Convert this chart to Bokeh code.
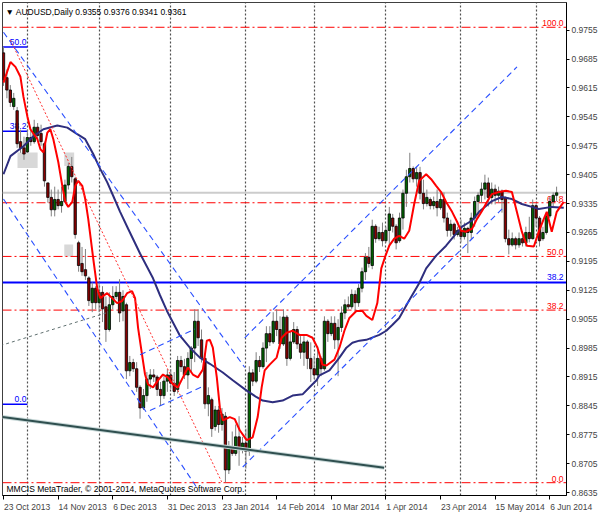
import pandas as pd
from bokeh.plotting import figure
from bokeh.models import (Range1d, FixedTicker, Label, ColumnDataSource,
                          PrintfTickFormatter, GlobalInlineStyleSheet)
from bokeh.core.properties import value
from bokeh.embed import file_html
from bokeh.resources import INLINE

# ---------------- data ----------------
holidays = ["2013-12-25", "2014-01-01"]
dates = [d for d in pd.bdate_range("2013-10-23", "2014-06-10")
         if d.strftime("%Y-%m-%d") not in holidays]

opens = [.9700,.9640,.9610,.9570,.9560,.9485,.9470,.9460,.9495,.9485,.9520,.9505,.9480,.9385,.9350,.9320,.9345,.9330,.9340,.9380,
         .9425,.9395,.9240,.9190,.9175,.9155,.9095,.9130,.9095,.9120,.9085,.9030,.9090,.9110,.9120,.9075,.9090,.8930,.8950,.8935,
         .8890,.8840,.8870,.8910,.8920,.8915,.8885,.8870,.8905,.8920,.8900,.8885,.8955,.8940,.8920,.8960,.8985,.9050,.9005,.8960,
         .8850,.8860,.8795,.8835,.8800,.8820,.8690,.8745,.8730,.8770,.8740,.8755,.8735,.8925,.8905,.8955,.8940,.8985,.9020,.9000,
         .9050,.9030,.8995,.9060,.8960,.9000,.9030,.8995,.8975,.9000,.8960,.8935,.8920,.8960,.8935,.9050,.9020,.9045,.9005,.9035,
         .9070,.9090,.9085,.9115,.9095,.9130,.9170,.9205,.9185,.9280,.9250,.9265,.9245,.9270,.9300,.9280,.9245,.9300,.9360,.9400,
         .9420,.9395,.9410,.9360,.9335,.9345,.9330,.9340,.9325,.9345,.9300,.9270,.9285,.9260,.9270,.9255,.9275,.9265,.9300,.9340,
         .9355,.9370,.9385,.9350,.9370,.9355,.9365,.9350,.9250,.9235,.9250,.9235,.9250,.9240,.9265,.9250,.9330,.9300,.9250,.9265,
         .9305,.9340,.9355]
highs = [.9715,.9660,.9622,.9603,.9569,.9514,.9497,.9514,.9514,.9538,.9530,.9526,.9485,.9386,.9369,.9376,.9369,.9376,.9393,.9434,
         .9448,.9400,.9245,.9230,.9225,.9159,.9144,.9135,.9144,.9135,.9110,.9120,.9135,.9135,.9152,.9125,.9095,.8966,.8959,.8951,
         .8895,.8886,.8927,.8934,.8934,.8920,.8903,.8917,.8934,.8934,.8927,.8966,.8966,.8959,.8975,.8990,.9079,.9079,.9030,.8970,
         .8890,.8865,.8845,.8845,.8840,.8830,.8760,.8783,.8800,.8820,.8770,.8790,.8941,.8934,.8975,.8966,.8999,.9038,.9038,.9072,
         .9079,.9062,.9079,.9065,.9024,.9048,.9038,.9014,.9014,.9005,.8999,.8966,.8990,.8965,.9062,.9055,.9062,.9062,.9055,.9086,
         .9103,.9110,.9127,.9125,.9140,.9180,.9215,.9230,.9296,.9285,.9279,.9289,.9279,.9327,.9310,.9285,.9313,.9369,.9417,.9458,
         .9425,.9424,.9424,.9393,.9369,.9350,.9352,.9369,.9362,.9362,.9313,.9296,.9289,.9279,.9296,.9289,.9279,.9313,.9352,.9362,
         .9386,.9405,.9398,.9386,.9381,.9376,.9369,.9352,.9272,.9265,.9255,.9265,.9265,.9279,.9303,.9345,.9335,.9305,.9279,.9313,
         .9352,.9362,.9376]
lows = [.9620,.9590,.9569,.9562,.9470,.9458,.9441,.9458,.9475,.9480,.9489,.9475,.9376,.9337,.9304,.9304,.9321,.9313,.9337,.9369,
        .9386,.9250,.9170,.9160,.9150,.9087,.9072,.9079,.9072,.9048,.9000,.9025,.9079,.9103,.9048,.9050,.8910,.8917,.8927,.8879,
        .8814,.8835,.8855,.8886,.8903,.8869,.8845,.8862,.8879,.8886,.8869,.8875,.8927,.8910,.8886,.8927,.8951,.8990,.8950,.8838,
        .8820,.8770,.8785,.8780,.8785,.8660,.8680,.8724,.8724,.8700,.8730,.8693,.8724,.8893,.8900,.8927,.8935,.8951,.8990,.8995,
        .9014,.8983,.8990,.8942,.8955,.8995,.8983,.8959,.8942,.8934,.8903,.8910,.8893,.8917,.8930,.9000,.9014,.8983,.8917,.9024,
        .9055,.9079,.9079,.9070,.9085,.9120,.9150,.9180,.9176,.9240,.9245,.9231,.9240,.9231,.9265,.9224,.9240,.9272,.9327,.9386,
        .9386,.9376,.9345,.9321,.9328,.9321,.9321,.9304,.9320,.9289,.9255,.9255,.9248,.9255,.9241,.9248,.9215,.9248,.9279,.9304,
        .9337,.9345,.9328,.9333,.9333,.9337,.9313,.9241,.9212,.9231,.9224,.9228,.9231,.9231,.9241,.9248,.9279,.9231,.9245,.9260,
        .9300,.9328,.9341]
closes = [.9635,.9610,.9580,.9590,.9480,.9470,.9455,.9495,.9485,.9520,.9500,.9485,.9390,.9350,.9320,.9345,.9330,.9340,.9380,.9425,
          .9400,.9260,.9185,.9170,.9160,.9100,.9130,.9095,.9120,.9080,.9030,.9090,.9110,.9120,.9070,.9110,.8930,.8950,.8935,.8890,
          .8840,.8870,.8910,.8920,.8915,.8885,.8870,.8905,.8920,.8900,.8880,.8955,.8940,.8920,.8960,.8985,.9050,.9010,.8960,.8850,
          .8870,.8790,.8835,.8800,.8825,.8690,.8745,.8730,.8770,.8740,.8755,.8735,.8925,.8905,.8955,.8940,.8985,.9020,.9000,.9050,
          .9030,.8995,.9060,.8960,.9000,.9030,.8995,.8975,.9000,.8960,.8935,.8920,.8960,.8935,.9050,.9020,.9045,.9005,.9035,.9070,
          .9090,.9085,.9115,.9095,.9130,.9170,.9205,.9190,.9280,.9250,.9265,.9245,.9270,.9310,.9280,.9240,.9300,.9360,.9400,.9420,
          .9395,.9410,.9360,.9335,.9350,.9330,.9340,.9325,.9345,.9300,.9270,.9285,.9260,.9270,.9255,.9275,.9265,.9300,.9340,.9355,
          .9370,.9385,.9350,.9370,.9355,.9365,.9345,.9250,.9235,.9250,.9235,.9250,.9240,.9265,.9250,.9330,.9300,.9245,.9265,.9305,
          .9340,.9355,.9361]

# fast (red) and slow (navy) moving averages (bar index, price)
red_ma_x = [0,2.04,3.5,4.96,5.84,7.0,7.88,9.93,10.8,11.68,12.85,13.72,14.6,16.06,17.23,18.1,18.98,20.15,21.02,21.9,
            23.07,23.94,24.82,26.28,27.45,28.32,30.36,31.82,33.28,34.74,36.2,37.66,38.54,39.42,40.58,41.46,42.34,43.8,45.26,46.72,
            48.18,49.64,51.09,52.55,54.01,55.47,56.93,58.39,59.56,60.44,61.31,62.48,63.36,64.23,66.28,67.74,69.2,71.24,72.99,74.45,
            75.62,76.5,77.96,80.0,81.46,82.92,84.67,86.72,88.76,90.51,91.97,93.43,94.6,96.93,98.39,99.85,101.31,103.36,105.11,106.28,
            108.03,109.49,110.66,111.82,112.99,114.45,115.91,117.37,118.83,120.29,121.75,123.8,125.26,126.72,128.18,129.64,131.39,132.85,134.01,135.47,
            137.23,138.69,140.15,141.61,143.07,145.11,147.15,148.91,150.36,151.82,153.28,155.33,156.79,158.25,159.12,160.58,162.04,164.09]
red_ma_y = [.9628,.9678,.9666,.9642,.9594,.9546,.9515,.9491,.9467,.9459,.9507,.9515,.9491,.9435,.9378,.9339,.9327,.9339,.9378,.9390,
            .9378,.9346,.9298,.9202,.9130,.9106,.9118,.9106,.9094,.9099,.9118,.9123,.9106,.9034,.8969,.8921,.8897,.8890,.8907,.8921,
            .8914,.8897,.8890,.8914,.8938,.8921,.8914,.8933,.9003,.9005,.8986,.8914,.8842,.8810,.8818,.8813,.8786,.8762,.8769,.8818,
            .8890,.8931,.8945,.8962,.9010,.9022,.9027,.9017,.9017,.9010,.8986,.8945,.8943,.8957,.8986,.9027,.9058,.9075,.9075,.9063,
            .9053,.9094,.9178,.9207,.9233,.9250,.9257,.9250,.9269,.9334,.9390,.9406,.9394,.9378,.9363,.9339,.9315,.9291,.9269,.9267,
            .9274,.9298,.9317,.9339,.9358,.9363,.9366,.9363,.9315,.9267,.9233,.9231,.9267,.9298,.9315,.9267,.9315,.9339]
navy_ma_x = [0,2.04,5.84,8.76,11.68,15.77,18.69,21.61,23.94,26.28,28.32,30.36,32.12,34.16,36.5,40.0,43.8,45.84,47.88,51.68,
             54.6,57.52,60.44,64.23,67.15,71.24,74.16,75.91,78.83,81.75,84.67,87.59,89.64,91.68,92.55,95.47,98.39,100.44,102.19,104.23,
             106.28,110.07,112.12,113.87,115.91,118.83,121.75,123.8,126.72,129.64,132.55,134.31,137.23,139.3,143.07,145.99,148.91,151.82,154.74,156.79,
             160.58,164.09]
navy_ma_y = [.9406,.9450,.9474,.9498,.9515,.9524,.9519,.9503,.9491,.9455,.9419,.9387,.9354,.9315,.9274,.9214,.9154,.9113,.9075,.9015,
             .8986,.8962,.8947,.8926,.8907,.8882,.8866,.8858,.8854,.8858,.8870,.8873,.8890,.8907,.8919,.8931,.8962,.8986,.8998,.9003,
             .9005,.9017,.9027,.9041,.9058,.9101,.9142,.9178,.9209,.9233,.9262,.9279,.9294,.9315,.9341,.9351,.9346,.9334,.9327,.9322,
             .9327,.9325]

# Fibonacci levels (price) and their labels
fib_red_prices = [.9762, .9337, .9207, .9077, .8659]
fib_red_labels = ["100.0", "61.8", "50.0", "38.2", "0.0"]
fib_blue_prices = [.9714, .9510, .8849]
fib_blue_labels = ["50.0", "38.2", "0.0"]
blue_level_price = .9144
blue_level_label = "38.2"
bid_price = .9361

# blue dashed trend lines: start/end bar index and price
trend_x0 = [0, 0, 70.66, 70.07, 40.0, 42.9]
trend_y0 = [.9750, .9346, .9010, .8697, .8969, .8834]
trend_x1 = [70.66, 56.9, 150.4, 146.6, 56.06, 58.4]
trend_y1 = [.8938, .8644, .9666, .9327, .9031, .8892]
red_dot_x = [2.04, 63.9]
red_dot_y = [.9731, .8661]
green_x = [-0.29, 111.5]
green_y = [.8818, .8695]
gray_dash_x = [-0.9, 30.0]
gray_dash_y = [.8991, .9070]

# shaded rectangles (bar index / price)
rect_left = [4.1, 17.8, 17.8]
rect_right = [10.0, 20.7, 20.4]
rect_top = [.9459, .9459, .9236]
rect_bottom = [.9421, .9426, .9207]

price_ticks = [.9755, .9685, .9615, .9545, .9475, .9405, .9335, .9265, .9195, .9125,
               .9055, .8985, .8915, .8845, .8775, .8705, .8635]

# ---------------- figure ----------------
n = len(dates)
idx = list(range(n))
label_idx = list(range(0, n, 16))
tick_labels = [dates[i].strftime("%-d %b %Y") for i in label_idx]
month_starts = [i for i in range(1, n) if dates[i].month != dates[i - 1].month]

x0, x1 = -0.29, 164.9
y0, y1 = 0.8628, 0.9822
FRAME_W = 565
FONT = "Liberation Sans"
FS_PX = 8.5
FS = "%.1fpx" % FS_PX

# approximate Arial/Liberation advance widths (em) to left-align the date labels
ADV = {' ': .278, '\u00A0': .278, 'O': .778, 'c': .5, 't': .278, 'N': .722, 'o': .556, 'v': .5,
       'D': .722, 'e': .556, 'J': .5, 'a': .556, 'n': .556, 'F': .611, 'b': .556, 'M': .833,
       'r': .333, 'A': .667, 'p': .556, 'y': .5, 'u': .556, 'l': .222, 'g': .556, 'S': .667, 'P': .667}
def text_w(s):
    return sum(.556 if ch.isdigit() else ADV.get(ch, .55) for ch in s) * FS_PX

px_per_bar = FRAME_W / (x1 - x0)
label_pos, label_txt = [], []
for i, t in zip(label_idx, tick_labels):
    c = i + (text_w(t) / 2.0 + 0.5) / px_per_bar
    if c < x1:
        label_pos.append(c)
        label_txt.append(t)
    else:
        # label running past the frame edge: centre it on the edge and pad its left side
        need = (c - x1) * px_per_bar * 2
        pad = "\u00A0" * max(0, int(round(need / (0.278 * FS_PX))))
        label_pos.append(x1 - 0.001)
        label_txt.append(pad + t)

p = figure(width=600, height=514, output_backend="svg", toolbar_location=None,
           x_range=Range1d(x0, x1), y_range=Range1d(y0, y1),
           y_axis_location="right", min_border_left=2, min_border_top=2,
           min_border_right=33, min_border_bottom=15)
p.stylesheets = [GlobalInlineStyleSheet(css="html, body { margin: 0 !important; padding: 0; }")]
p.background_fill_color = "white"
p.border_fill_color = "white"
p.outline_line_color = "#404040"

# axes
p.yaxis.ticker = FixedTicker(ticks=price_ticks)
p.yaxis.formatter = PrintfTickFormatter(format="%.4f")
p.yaxis.major_tick_out = 3
p.yaxis.major_tick_in = 0
p.yaxis.minor_tick_out = 0
p.yaxis.minor_tick_in = 0
p.yaxis.major_label_standoff = 2
p.yaxis.major_label_text_font = FONT
p.yaxis.major_label_text_font_size = FS
p.yaxis.axis_line_color = "black"

# labels sit at shifted positions (so they read left-aligned); tick marks are the minor ticks
p.xaxis.ticker = FixedTicker(ticks=label_pos, minor_ticks=label_idx)
p.xaxis.major_label_overrides = {pos: t for pos, t in zip(label_pos, label_txt)}
p.xaxis.major_tick_out = 0
p.xaxis.major_tick_in = 0
p.xaxis.minor_tick_out = 4
p.xaxis.minor_tick_in = 0
p.xaxis.minor_tick_line_color = "black"
p.xaxis.major_label_standoff = 2
p.xaxis.major_label_text_font = FONT
p.xaxis.major_label_text_font_size = FS
p.xaxis.axis_line_color = "black"

p.ygrid.visible = False
p.xgrid.ticker = FixedTicker(ticks=month_starts)
p.xgrid.grid_line_color = "#505050"
p.xgrid.grid_line_dash = "2 2"
p.xgrid.grid_line_width = 1.2

# shaded rectangles
p.quad(left=rect_left, right=rect_right, top=rect_top, bottom=rect_bottom,
       fill_color="#D8D8D8", line_color=None)

# fibonacci (red)
for pr in fib_red_prices:
    p.line([x0, x1], [pr, pr], line_color="#FF0000", line_dash="9 3 2 3", line_width=1)
p.text(x=[x1] * len(fib_red_prices), y=fib_red_prices, text=fib_red_labels,
       x_offset=-3, y_offset=-1, text_align="right", text_baseline="bottom",
       text_color="#FF0000", text_font=value(FONT), text_font_size=FS)

# blue level line
p.line([x0, x1], [blue_level_price, blue_level_price], line_color="#0000FF", line_width=2)
p.text(x=[x1], y=[blue_level_price], text=[blue_level_label], x_offset=-3, y_offset=-2,
       text_align="right", text_baseline="bottom", text_color="#0000FF",
       text_font=value(FONT), text_font_size=FS)

# blue fibonacci (left short segments)
for pr in fib_blue_prices:
    p.line([x0, month_starts[0]], [pr, pr], line_color="#0000FF", line_width=1.5)
p.text(x=[month_starts[0]] * len(fib_blue_prices), y=fib_blue_prices, text=fib_blue_labels,
       x_offset=-1, y_offset=-2, text_align="right", text_baseline="bottom",
       text_color="#0000FF", text_font=value(FONT), text_font_size=FS)

# bid line
p.line([x0, x1], [bid_price, bid_price], line_color="#CCCCCC", line_width=2)

# candles
up = [c >= o for o, c in zip(opens, closes)]
src = ColumnDataSource(dict(
    x=idx, high=highs, low=lows,
    top=[max(o, c) for o, c in zip(opens, closes)],
    bottom=[min(o, c) for o, c in zip(opens, closes)],
    color=["#006400" if u else "#8B0000" for u in up]))
p.segment(x0="x", y0="low", x1="x", y1="high", source=src, line_color="#808080", line_width=1)
p.vbar(x="x", width=0.7, top="top", bottom="bottom", source=src,
       fill_color="color", line_color="black", line_width=0.8)

# moving averages
p.line(navy_ma_x, navy_ma_y, line_color="#2E2E7E", line_width=2)
p.line(red_ma_x, red_ma_y, line_color="#FF0000", line_width=2)

# trend lines
p.segment(x0=trend_x0, y0=trend_y0, x1=trend_x1, y1=trend_y1,
          line_color="#2B50FF", line_dash="6 4", line_width=1.1)
p.line(red_dot_x, red_dot_y, line_color="#FF3030", line_dash="2 2", line_width=1)
p.line(gray_dash_x, gray_dash_y, line_color="#607070", line_dash="3 3", line_width=1)
p.line(green_x, green_y, line_color="#C8D8D8", line_width=4)
p.line(green_x, green_y, line_color="#2F4F4F", line_width=2)

# texts
p.add_layout(Label(x=x0, y=y1, x_offset=3, y_offset=-4, text_baseline="top",
                   text="\u25BC AUDUSD,Daily  0.9355 0.9376 0.9341 0.9361",
                   text_font=FONT, text_font_size=FS, text_color="black"))
p.add_layout(Label(x=x0, y=y0, x_offset=4, y_offset=2, text_baseline="bottom",
                   text="MMCIS MetaTrader, \u00A9 2001-2014, MetaQuotes Software Corp.",
                   text_font=FONT, text_font_size=FS, text_color="black"))
p.add_layout(Label(x=x1, y=bid_price, x_offset=1, text=" 0.9361 ", text_baseline="middle",
                   text_font=FONT, text_font_size=FS, text_color="white",
                   background_fill_color="black"))

open("out.html", "w").write(file_html(p, INLINE))
